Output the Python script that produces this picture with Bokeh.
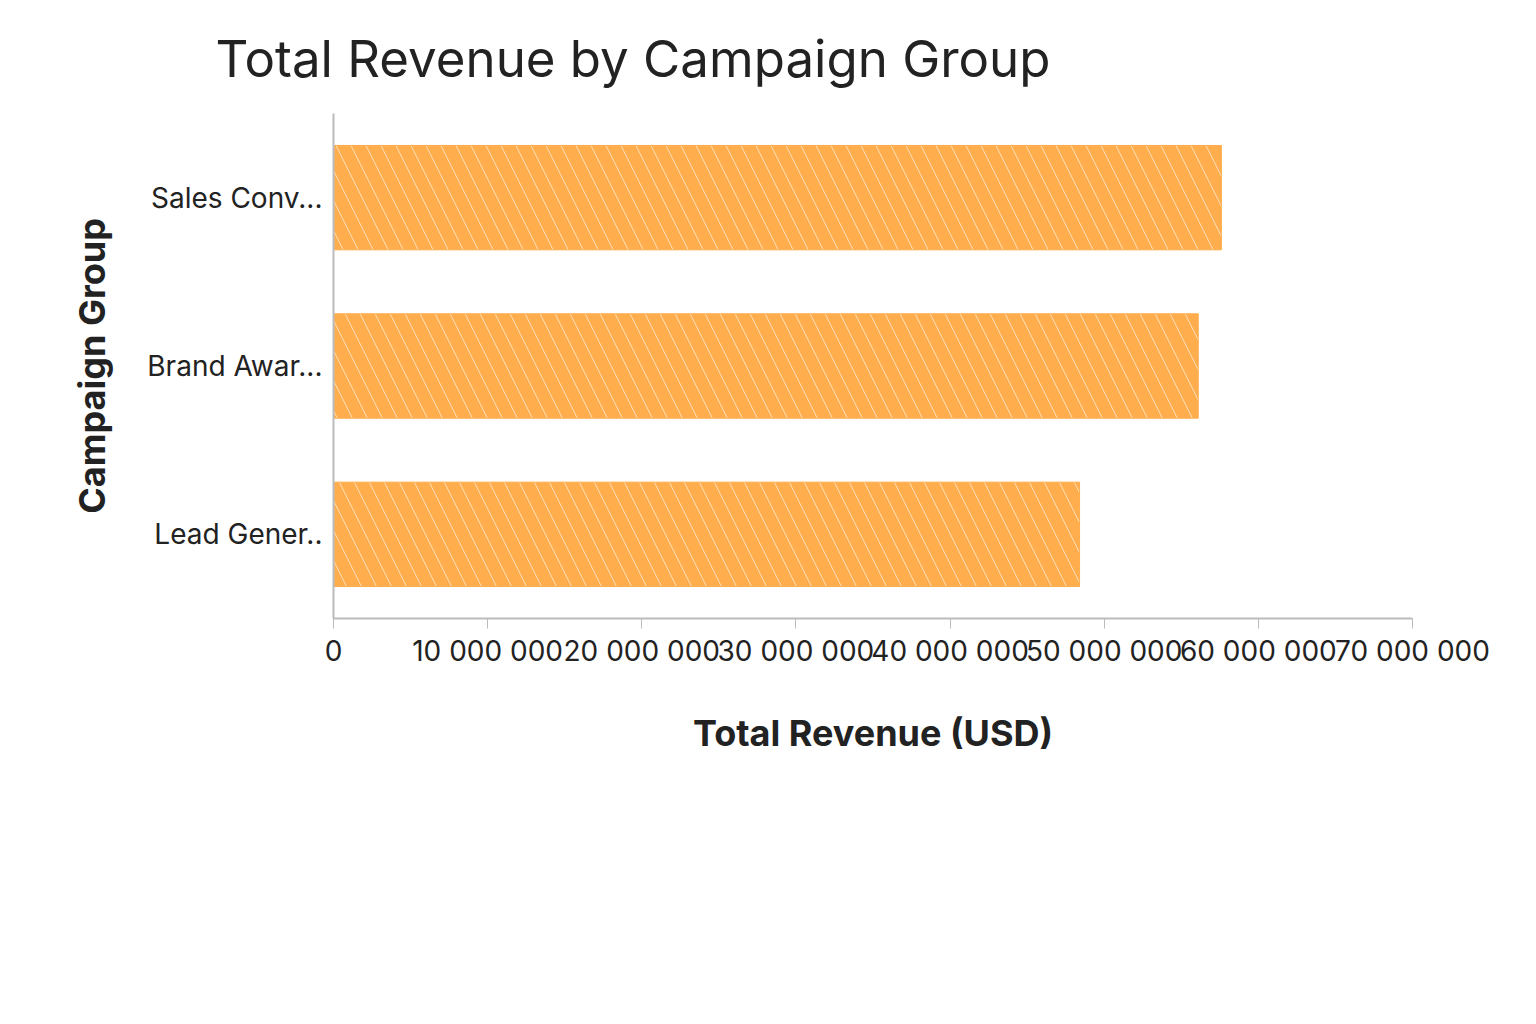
from bokeh.plotting import figure
from bokeh.models import Legend, LegendItem, CustomJSTickFormatter, Range1d, FixedTicker, Title
from bokeh.embed import file_html
from bokeh.resources import INLINE

groups = ["Lead Gener..", "Brand Awar...", "Sales Conv..."]
revenue = [48400000, 56100000, 57600000]
ticks = [0, 10000000, 20000000, 30000000, 40000000, 50000000, 60000000, 70000000]

p = figure(frame_width=1079, frame_height=505, y_range=groups, x_range=Range1d(0, 70000000),
           output_backend="svg", toolbar_location=None,
           min_border_left=333, min_border_right=100, min_border_top=60, min_border_bottom=300)
p.title = None
t = Title(text="Total Revenue by Campaign Group", text_font="Inter", text_font_size="51px",
          text_font_style="normal", text_color="#222222", align="left", offset=-118, standoff=50)
p.add_layout(t, "above")

r = p.hbar(y=groups, right=revenue, height=0.62, fill_color="#FFAD4D", line_color="#FFAD4D",
           hatch_pattern="left_diagonal_line", hatch_color="white", hatch_alpha=0.6,
           hatch_scale=30, hatch_weight=1)

p.xgrid.visible = False
p.ygrid.visible = False
p.outline_line_color = None
p.xaxis.ticker = FixedTicker(ticks=ticks)
p.xaxis.formatter = CustomJSTickFormatter(code="return tick.toLocaleString('en-US').replace(/,/g,' ');")
for ax in (p.xaxis[0], p.yaxis[0]):
    ax.axis_line_color = "#bbbbbb"
    ax.axis_line_width = 2
    ax.major_tick_line_color = "#bbbbbb"
    ax.minor_tick_line_color = None
    ax.major_label_text_font = "Inter"
    ax.major_label_text_font_size = "28px"
    ax.major_label_text_color = "#222222"
    ax.axis_label_text_font = "Inter"
    ax.axis_label_text_font_size = "36px"
    ax.axis_label_text_font_style = "bold"
    ax.axis_label_text_color = "#222222"
p.yaxis.major_tick_line_color = None
p.yaxis.axis_label_standoff = 30
p.xaxis.major_tick_out = 10
p.xaxis.major_tick_in = 0
p.xaxis.axis_label = "Total Revenue (USD)"
p.yaxis.axis_label = "Campaign Group"
p.xaxis.axis_label_standoff = 40

legend = Legend(items=[LegendItem(label="Campaign Group", renderers=[r])],
                orientation="horizontal", location=(222, -222), border_line_color=None,
                background_fill_alpha=0,
                label_text_font="Inter", label_text_font_size="36px", label_text_color="#222222",
                glyph_width=40, glyph_height=42, padding=8, margin=0)
p.add_layout(legend, "center")

open("out.html", "w").write(file_html(p, INLINE))
